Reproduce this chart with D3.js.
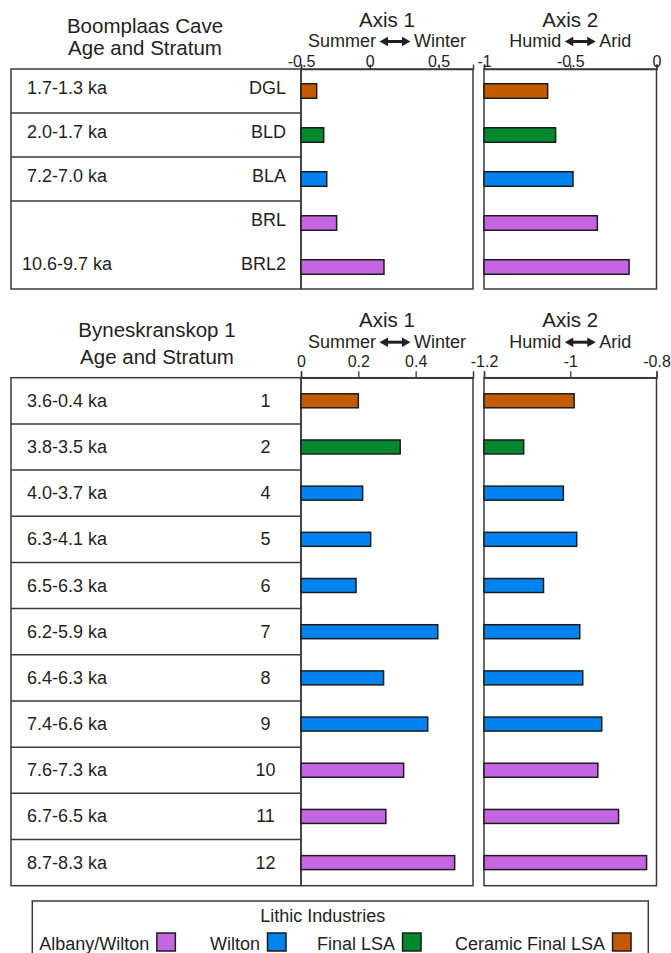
<!DOCTYPE html>
<html>
<head>
<meta charset="utf-8">
<script src="https://cdn.jsdelivr.net/npm/d3@7"></script>
<style>
  body { margin: 0; background: #fff; }
  svg { display: block; font-family: "Liberation Sans", Arial, Helvetica, sans-serif; }
</style>
</head>
<body>
<svg id="chart" width="671" height="953"></svg>
<script>
// ---- Lithic industries ----
const industries = ["Albany/Wilton", "Wilton", "Final LSA", "Ceramic Final LSA"];
const industryColors = ["#C465E2", "#0082EF", "#00882F", "#C45A00"];

// ---- Boomplaas Cave ----
const bpStrata = ["DGL", "BLD", "BLA", "BRL", "BRL2"];
const bpAges = ["1.7-1.3 ka", "2.0-1.7 ka", "7.2-7.0 ka", "", "10.6-9.7 ka"];
const bpIndustry = ["Ceramic Final LSA", "Final LSA", "Wilton", "Albany/Wilton", "Albany/Wilton"];
const bpAxis1 = [-0.386, -0.335, -0.313, -0.241, 0.103];
const bpAxis2 = [-0.631, -0.585, -0.484, -0.343, -0.159];
const bpAxis1Domain = [-0.5, 0.75];
const bpAxis2Domain = [-1, 0];
const bpAxis1Ticks = [-0.5, 0, 0.5];
const bpAxis1TickLabels = ["-0.5", "0", "0.5"];
const bpAxis2Ticks = [-1, -0.5, 0];
const bpAxis2TickLabels = ["-1", "-0.5", "0"];

// ---- Byneskranskop 1 ----
const bkStrata = ["1", "2", "4", "5", "6", "7", "8", "9", "10", "11", "12"];
const bkAges = ["3.6-0.4 ka", "3.8-3.5 ka", "4.0-3.7 ka", "6.3-4.1 ka", "6.5-6.3 ka", "6.2-5.9 ka",
                "6.4-6.3 ka", "7.4-6.6 ka", "7.6-7.3 ka", "6.7-6.5 ka", "8.7-8.3 ka"];
const bkIndustry = ["Ceramic Final LSA", "Final LSA", "Wilton", "Wilton", "Wilton", "Wilton",
                    "Wilton", "Wilton", "Albany/Wilton", "Albany/Wilton", "Albany/Wilton"];
const bkAxis1 = [0.200, 0.346, 0.215, 0.243, 0.192, 0.477, 0.288, 0.442, 0.358, 0.296, 0.536];
const bkAxis2 = [-0.991, -1.108, -1.016, -0.985, -1.062, -0.978, -0.971, -0.927, -0.936, -0.888, -0.823];
const bkAxis1Domain = [0, 0.6];
const bkAxis2Domain = [-1.2, -0.8];
const bkAxis1Ticks = [0, 0.2, 0.4];
const bkAxis1TickLabels = ["0", "0.2", "0.4"];
const bkAxis2Ticks = [-1.2, -1, -0.8];
const bkAxis2TickLabels = ["-1.2", "-1", "-0.8"];

const axisTitles = ["Axis 1", "Axis 2"];
const axisPoles = [["Summer", "Winter"], ["Humid", "Arid"]];

const INK = "#231F20";
const FRAME = "#3a3a3a";
const color = d3.scaleOrdinal().domain(industries).range(industryColors);

const svg = d3.select("#chart");

// double-headed arrow between two pole words, centred on cx
function poleLabel(g, cx, baseline, words) {
  const fs = 18, gap = 3.5, len = 31;
  const grp = g.append("g");
  const left = grp.append("text").attr("font-size", fs).attr("fill", INK).attr("y", baseline).text(words[0]);
  const right = grp.append("text").attr("font-size", fs).attr("fill", INK).attr("y", baseline).text(words[1]);
  const w1 = left.node().getComputedTextLength();
  const w2 = right.node().getComputedTextLength();
  const total = w1 + gap + len + gap + w2;
  const x0 = cx - total / 2;
  left.attr("x", x0);
  const ax0 = x0 + w1 + gap, ax1 = ax0 + len, ay = baseline - 5.5;
  const head = 8.5, hh = 4.8;
  grp.append("line").attr("x1", ax0 + head - 1).attr("x2", ax1 - head + 1)
    .attr("y1", ay).attr("y2", ay).attr("stroke", INK).attr("stroke-width", 3);
  grp.append("path")
    .attr("d", `M${ax0},${ay} L${ax0 + head},${ay - hh} L${ax0 + head},${ay + hh} Z` +
               `M${ax1},${ay} L${ax1 - head},${ay - hh} L${ax1 - head},${ay + hh} Z`)
    .attr("fill", INK);
  right.attr("x", ax1 + gap);
}

function drawSite(cfg) {
  const g = svg.append("g");
  const n = cfg.strata.length;
  const y = d3.scaleBand().domain(d3.range(n)).range([cfg.top, cfg.bottom])
    .paddingInner(cfg.barPad).paddingOuter(cfg.barPad / 2);
  const step = y.step();

  // site title
  cfg.title.forEach((t, i) => {
    g.append("text").attr("x", cfg.titleX).attr("y", cfg.titleY[i])
      .attr("text-anchor", "middle").attr("font-size", 20.5).attr("fill", INK).text(t);
  });

  // age / stratum table
  const tx0 = 11, tx1 = 301;
  g.append("rect").attr("x", tx0).attr("y", cfg.top).attr("width", tx1 - tx0)
    .attr("height", cfg.bottom - cfg.top).attr("fill", "none")
    .attr("stroke", FRAME).attr("stroke-width", 1.5);
  // a blank age cell merges with the row below it
  d3.range(1, n).filter(i => cfg.ages[i - 1] !== "").forEach(i => {
    const yy = cfg.top + i * step;
    g.append("line").attr("x1", tx0).attr("x2", tx1).attr("y1", yy).attr("y2", yy)
      .attr("stroke", FRAME).attr("stroke-width", 1.5);
  });
  const rowMid = i => y(i) + y.bandwidth() / 2;
  g.selectAll(".age").data(cfg.ages).join("text")
    .attr("x", 67).attr("y", (d, i) => rowMid(i) + cfg.textShift)
    .attr("text-anchor", "middle").attr("font-size", 18).attr("fill", INK).text(d => d);
  g.selectAll(".stratum").data(cfg.strata).join("text")
    .attr("x", cfg.stratumX).attr("y", (d, i) => rowMid(i) + cfg.textShift)
    .attr("text-anchor", cfg.stratumAnchor).attr("font-size", 18).attr("fill", INK).text(d => d);

  // two score panels
  const panels = [
    { x: [301, 473], domain: cfg.a1Domain, ticks: cfg.a1Ticks, labels: cfg.a1Labels, values: cfg.axis1 },
    { x: [484, 656.5], domain: cfg.a2Domain, ticks: cfg.a2Ticks, labels: cfg.a2Labels, values: cfg.axis2 }
  ];
  panels.forEach((p, k) => {
    const xs = d3.scaleLinear().domain(p.domain).range(p.x);
    const pg = g.append("g");
    pg.append("rect").attr("x", p.x[0]).attr("y", cfg.top).attr("width", p.x[1] - p.x[0])
      .attr("height", cfg.bottom - cfg.top).attr("fill", "none")
      .attr("stroke", FRAME).attr("stroke-width", 1.5);

    const ax = pg.append("g").attr("transform", `translate(0,${cfg.top})`)
      .call(d3.axisTop(xs).tickValues(p.ticks).tickFormat((d, i) => p.labels[i])
        .tickSize(cfg.tickSize).tickSizeOuter(cfg.tickSize).tickPadding(cfg.tickPad));
    ax.select(".domain").attr("stroke", FRAME).attr("stroke-width", 1.5);
    ax.selectAll(".tick line").attr("stroke", FRAME).attr("stroke-width", 1.3);
    ax.selectAll(".tick text").attr("font-size", 16).attr("fill", INK)
      .attr("font-family", "Liberation Sans, Arial, sans-serif").attr("dy", "0");

    const cx = (p.x[0] + p.x[1]) / 2;
    pg.append("text").attr("x", cx).attr("y", cfg.top - cfg.axisTitleOff)
      .attr("text-anchor", "middle").attr("font-size", 20.5).attr("fill", INK).text(axisTitles[k]);
    poleLabel(pg, cx, cfg.top - cfg.poleOff, axisPoles[k]);

    pg.selectAll(".bar").data(p.values).join("rect")
      .attr("x", xs(p.domain[0]))
      .attr("y", (d, i) => y(i))
      .attr("width", d => xs(d) - xs(p.domain[0]))
      .attr("height", y.bandwidth())
      .attr("fill", (d, i) => color(cfg.industry[i]))
      .attr("stroke", "#1c1c1c").attr("stroke-width", 1.5);
  });
}

drawSite({
  title: ["Boomplaas Cave", "Age and Stratum"], titleX: 145, titleY: [33.3, 55],
  top: 69, bottom: 289, barPad: 0.67, textShift: 3.3,
  strata: bpStrata, ages: bpAges, industry: bpIndustry,
  stratumX: 286, stratumAnchor: "end",
  axis1: bpAxis1, axis2: bpAxis2,
  a1Domain: bpAxis1Domain, a1Ticks: bpAxis1Ticks, a1Labels: bpAxis1TickLabels,
  a2Domain: bpAxis2Domain, a2Ticks: bpAxis2Ticks, a2Labels: bpAxis2TickLabels,
  tickSize: 4.5, tickPad: -2, poleOff: 22, axisTitleOff: 42.5
});

drawSite({
  title: ["Byneskranskop 1", "Age and Stratum"], titleX: 157, titleY: [337.3, 364],
  top: 377.7, bottom: 885.7, barPad: 0.697, textShift: 6,
  strata: bkStrata, ages: bkAges, industry: bkIndustry,
  stratumX: 265.5, stratumAnchor: "middle",
  axis1: bkAxis1, axis2: bkAxis2,
  a1Domain: bkAxis1Domain, a1Ticks: bkAxis1Ticks, a1Labels: bkAxis1TickLabels,
  a2Domain: bkAxis2Domain, a2Ticks: bkAxis2Ticks, a2Labels: bkAxis2TickLabels,
  tickSize: 6.5, tickPad: 4.5, poleOff: 30, axisTitleOff: 51
});

// ---- legend ----
const lg = svg.append("g");
lg.append("rect").attr("x", 32.3).attr("y", 901).attr("width", 616).attr("height", 70)
  .attr("fill", "none").attr("stroke", FRAME).attr("stroke-width", 1.5);
lg.append("text").attr("x", 322.7).attr("y", 922).attr("text-anchor", "middle")
  .attr("font-size", 18).attr("fill", INK).text("Lithic Industries");
const legendStarts = [39.3, 210, 317, 455];
industries.forEach((name, i) => {
  const t = lg.append("text").attr("x", legendStarts[i]).attr("y", 950)
    .attr("font-size", 18).attr("fill", INK).text(name);
  const w = t.node().getComputedTextLength();
  lg.append("rect").attr("x", legendStarts[i] + w + 7.5).attr("y", 933)
    .attr("width", 18.5).attr("height", 18)
    .attr("fill", color(name)).attr("stroke", "#1c1c1c").attr("stroke-width", 1.5);
});
</script>
</body>
</html>
